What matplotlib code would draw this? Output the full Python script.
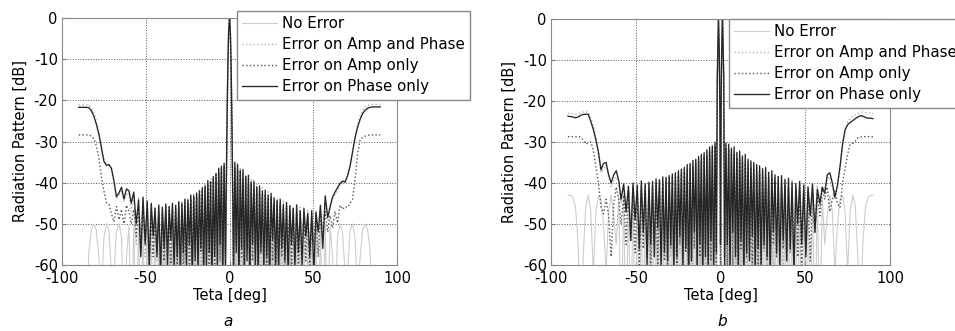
import numpy as np
import matplotlib
matplotlib.use('Agg')
import matplotlib.pyplot as plt

plt.rcParams['font.family'] = ['DejaVu Sans']
plt.rcParams['axes.unicode_minus'] = False

# lobe grid (deg, positive side) - nulls and sidelobe tops
null_deg = [2.41, 4.01, 5.62, 7.24, 8.86, 10.49, 12.12, 13.77, 15.42, 17.10,
            18.78, 20.49, 22.21, 23.95, 25.72, 27.52, 29.34, 31.20, 33.09, 35.03,
            37.01, 39.05, 41.15, 43.32, 45.56, 47.91, 50.35, 52.95, 55.69, 58.66]
peak_deg = [3.21, 4.82, 6.43, 8.05, 9.67, 11.30, 12.94, 14.60, 16.26, 17.94,
            19.63, 21.35, 23.08, 24.83, 26.62, 28.42, 30.27, 32.14, 34.06, 36.02,
            38.03, 40.09, 42.22, 44.43, 46.71, 49.11, 51.63, 54.29, 57.14]
outer_deg = [60.0, 61.5, 63.0, 64.5, 66.0, 67.5, 69.0, 70.5, 72.0, 73.5, 75.0,
             76.5, 78.0, 79.5, 81.0, 82.5, 84.0, 85.5, 87.0, 88.5, 90.0]

main_a_deg = [-1.6, -1.0, -0.5, 0.0, 0.5, 1.0, 1.6]
main_b_deg = [-1.9, -1.2, -0.7, -0.3, 0.0, 0.3, 0.7, 1.2, 1.9]

labels = ['No Error', 'Error on Amp and Phase', 'Error on Amp only', 'Error on Phase only']

# ---------------- panel a ----------------
a_none_main = [-30, -12, -3.2, 0, -3.2, -12, -30]
a_none_null = [-80, -80, -80, -80, -80, -80, -80, -80, -80, -80,
               -80, -80, -80, -80, -80, -80, -80, -80, -80, -80,
               -80, -80, -80, -80, -80, -80, -80, -80, -80, -80]
a_none_peak = [-50, -50, -50, -50, -50, -50, -50, -50, -50, -50,
               -50, -50, -50, -50, -50, -50, -50, -50, -50, -50,
               -50, -50, -50, -50, -50, -50, -50, -50, -50]
a_none_outer = [-50.5, -58, -75, -53, -50, -52, -62, -62, -51.5, -50, -53.5,
                -68, -58, -51.5, -50, -51.5, -57, -75, -62, -60.5, -62]

a_ampph_main = [-28.5, -11.2, -2.9, -0.2, -3.4, -12.5, -31]
a_ampph_r_null = [-58, -63, -55, -60, -66, -57, -61, -54, -63, -58, -60, -56, -64, -59, -61,
                  -55, -58, -63, -57, -60, -62, -54, -59, -61, -56, -60, -53, -57, -51, -49]
a_ampph_r_peak = [-35.8, -36, -36.5, -37.5, -38, -39, -39.2, -40.5, -40.3, -41.5, -41.2, -42.6,
                  -42.2, -43.5, -43.2, -44.5, -44.8, -44.3, -45.5, -45.2, -46, -46.6, -46, -47.2,
                  -46.5, -47.8, -46.8, -46, -44.5]
a_ampph_r_outer = [-45.5, -44, -43, -41.8, -40.6, -40, -39.6, -37.8, -35.4, -32, -28.5,
                   -25.8, -23.8, -22.5, -21.6, -21.2, -21, -21, -21, -21, -21]
a_ampph_l_null = [-61, -56, -62, -58, -55, -63, -59, -57, -61, -60, -54, -62, -58, -56, -63,
                  -59, -55, -61, -57, -60, -58, -62, -55, -59, -57, -54, -58, -52, -55, -47]
a_ampph_l_peak = [-35.6, -36.4, -37, -37.4, -38.9, -39, -40.2, -40.4, -41.6, -41.6, -42.8, -42.6,
                  -43.5, -43.8, -44.4, -44.6, -45, -45.2, -45.3, -45.5, -45.8, -45.6, -46, -45.8,
                  -45.5, -45, -44, -43.5, -43]
a_ampph_l_outer = [-43, -42.5, -44.5, -42, -43, -44, -40, -37, -35.8, -35.4, -34.2,
                   -30.8, -27.5, -25, -23, -21.8, -21.2, -21.1, -21.1, -21.1, -21.1]

a_amp_main = [-30.5, -12.3, -3.3, -0.05, -3.1, -11.8, -29.5]
a_amp_r_null = [-60, -55, -62, -58, -64, -56, -60, -59, -57, -63, -55, -60, -61, -57, -59,
                -64, -56, -58, -62, -55, -60, -58, -63, -56, -59, -61, -55, -58, -54, -52]
a_amp_r_peak = [-36.5, -37, -37.5, -38.6, -38.4, -40, -40.3, -41.5, -41.2, -42.4, -43, -42.8,
                -44, -43.6, -45, -44.8, -45.5, -46.2, -45.8, -46.8, -46.4, -47.5, -47, -48,
                -47.6, -48.5, -48, -47.5, -47]
a_amp_r_outer = [-48, -51, -47, -49.8, -45.5, -46.5, -45.8, -46, -45, -44, -39,
                 -33, -29.5, -29, -28.7, -28.5, -28.4, -28.4, -28.4, -28.4, -28.4]
a_amp_l_null = [-57, -62, -59, -55, -61, -58, -64, -56, -60, -57, -62, -55, -59, -61, -58,
                -63, -56, -60, -58, -62, -55, -59, -61, -57, -58, -60, -54, -57, -53, -50]
a_amp_l_peak = [-36, -36.8, -37.6, -38.2, -39.2, -39.5, -40.8, -41, -42.2, -42.8, -43.4, -43.6,
                -44.4, -44.8, -45.4, -45.5, -46, -46.2, -46.6, -46.8, -47, -47.4, -47.2, -47.8,
                -47.2, -46.5, -46.8, -45.8, -46.5]
a_amp_l_outer = [-47, -45.5, -50, -46.5, -49, -45.8, -49.5, -47.5, -45.3, -44.8, -42,
                 -38.5, -34, -31, -29.3, -28.7, -28.4, -28.4, -28.4, -28.4, -28.4]

a_ph_main = [-29, -11.5, -3, -0.1, -3.3, -12.2, -30.5]
a_ph_r_null = [-62, -57, -64, -56, -61, -59, -66, -55, -60, -63, -57, -61, -58, -65, -54,
               -60, -62, -56, -59, -63, -55, -61, -57, -60, -53, -58, -62, -52, -56, -48.5]
a_ph_r_peak = [-35, -35.5, -37, -36.8, -38.5, -38.2, -39.8, -39.6, -41, -40.8, -42, -41.8,
               -43, -42.6, -43.8, -44.2, -44, -45.3, -44.8, -45.6, -46.2, -45.4, -46.8, -46.2,
               -47.5, -46.8, -47.2, -45.5, -43.2]
a_ph_r_outer = [-46, -43.5, -42.3, -41.2, -40.2, -39.6, -39.9, -38.3, -36, -32.5, -29,
                -26.5, -24.6, -23.2, -22.4, -21.9, -21.7, -21.6, -21.6, -21.6, -21.6]
a_ph_l_null = [-60, -63, -55, -61, -58, -65, -57, -60, -62, -56, -61, -59, -64, -55, -60,
               -57, -63, -58, -61, -54, -60, -56, -62, -58, -53, -60, -55, -58, -50, -45]
a_ph_l_peak = [-35.3, -36, -36.5, -37.8, -38.5, -39.8, -39.5, -40.8, -41.2, -42, -42.5, -43.2,
               -43, -44.2, -44, -45, -44.6, -45.5, -45, -45.8, -45.2, -46, -45.4, -46.2,
               -45, -44.5, -43.5, -44.2, -42.3]
a_ph_l_outer = [-42, -41.5, -44, -41.1, -42.5, -43.4, -39.5, -36.5, -35.6, -35.8, -34.8,
                -31.5, -28.2, -25.8, -23.8, -22.5, -21.8, -21.7, -21.7, -21.7, -21.7]

# ---------------- panel b ----------------
b_none_main = [-14, 0, -8, -24, -80, -24, -8, 0, -14]
b_none_null = [-80, -80, -80, -80, -80, -80, -80, -80, -80, -80,
               -80, -80, -80, -80, -80, -80, -80, -80, -80, -80,
               -80, -80, -80, -80, -80, -80, -80, -80, -80, -80]
b_none_peak = [-43, -43, -43, -43, -43, -43, -43, -43, -43, -43,
               -43, -43, -43, -43, -43, -43, -43, -43, -43, -43,
               -43, -43, -43, -43, -43, -43, -43, -43, -43]
b_none_outer = [-43.5, -55, -48, -43, -47, -62, -50, -44, -43, -47, -62,
                -47, -43, -45.5, -58, -75, -55, -46, -43.5, -43, -43]

b_ampph_main = [-14.2, -0.5, -8.5, -25, -48, -23, -7.6, -0.4, -14.4]
b_ampph_r_null = [-56, -61, -58, -54, -63, -57, -60, -55, -62, -58, -56, -61, -53, -59, -57,
                  -62, -55, -60, -58, -54, -61, -57, -53, -59, -55, -52, -57, -50, -49, -46]
b_ampph_r_peak = [-30.8, -31, -31.8, -32, -32.8, -33.2, -33.6, -34, -34.5, -35.2, -35.4, -36,
                  -36.4, -36.8, -37, -37.5, -37.8, -38.4, -38.2, -38.8, -39, -39.5, -39.4, -40,
                  -40.4, -40, -40.8, -41.2, -40.6]
b_ampph_r_outer = [-42, -41, -39, -38.5, -41.5, -44, -41.5, -37, -31.5, -27.5, -25,
                   -24.2, -23.8, -23.4, -23, -22.8, -22.7, -22.8, -22.9, -23, -23]
b_ampph_l_null = [-59, -55, -62, -57, -60, -54, -63, -58, -56, -61, -59, -55, -62, -57, -60,
                  -53, -58, -61, -55, -59, -57, -52, -58, -55, -53, -57, -50, -52, -48, -45]
b_ampph_l_peak = [-30.6, -30.8, -32, -31.8, -33, -33.4, -34, -34.4, -35, -35.6, -36, -36.4,
                  -37, -37.4, -37.8, -38.2, -38.6, -38.8, -39.2, -39.4, -39.8, -40, -40.2, -40.5,
                  -40.6, -40.3, -40.8, -40.5, -41]
b_ampph_l_outer = [-40, -38.5, -39.5, -41, -38.5, -35.5, -36.5, -37.5, -33, -29, -26,
                   -24, -22.8, -22.6, -22.7, -22.9, -23.1, -23.2, -23.1, -23, -23]

b_amp_main = [-13.8, -0.1, -8.2, -24.5, -62, -24.8, -8.1, -0.1, -14]
b_amp_r_null = [-58, -62, -55, -60, -57, -64, -56, -61, -58, -55, -62, -57, -60, -63, -56,
                -59, -61, -55, -58, -62, -56, -59, -57, -60, -58, -61, -56, -59, -52, -48]
b_amp_r_peak = [-31.5, -31.8, -32.6, -33, -33.8, -34, -34.8, -35.2, -35.6, -36.2, -36.6, -37.2,
                -37.6, -38, -38.4, -38.8, -39.2, -39.6, -40, -40.2, -40.6, -41, -41.2, -41.6,
                -41.8, -42, -42.2, -42.5, -42.8]
b_amp_r_outer = [-41, -44, -41, -47, -44, -42, -45, -46, -40, -36.5, -33,
                 -30.5, -30.3, -29.8, -29, -28.8, -28.7, -28.7, -28.7, -28.7, -28.7]
b_amp_l_null = [-61, -57, -59, -63, -55, -60, -58, -62, -56, -59, -64, -57, -60, -55, -62,
                -58, -56, -61, -59, -57, -60, -55, -62, -58, -56, -60, -57, -54, -55, -50]
b_amp_l_peak = [-31, -32, -32.4, -33.2, -33.6, -34.4, -34.6, -35.4, -35.8, -36.4, -37, -37.2,
                -37.8, -38.2, -38.6, -39, -39.4, -39.8, -40, -40.5, -40.8, -41, -41.5, -41.6,
                -42, -41.5, -42.4, -42, -43]
b_amp_l_outer = [-44, -41, -45, -58, -48, -44, -47.5, -46, -40, -36, -32,
                 -30, -30.2, -30.5, -29.5, -28.8, -28.7, -28.7, -28.7, -28.7, -28.7]

b_ph_main = [-14.5, -0.3, -8.5, -25, -55, -24, -7.8, -0.2, -13.8]
b_ph_r_null = [-60, -55, -63, -52, -58, -61, -54, -64, -57, -59, -53, -62, -56, -60, -55,
               -58, -63, -52, -57, -60, -54, -59, -56, -62, -50, -55, -58, -48, -52, -45]
b_ph_r_peak = [-30.2, -30.5, -31.5, -31.2, -32.5, -32.2, -33.4, -33, -34.2, -34.6, -35, -35.5,
               -35.8, -36.5, -36.2, -37.4, -37, -38, -38.4, -38.2, -39.2, -38.8, -39.8, -40.2,
               -39.6, -40.5, -41, -40.2, -41.5]
b_ph_r_outer = [-41, -42.5, -38, -37.5, -40, -43.5, -40.5, -36, -30.5, -27, -25.8,
                -25.2, -24.8, -24.3, -23.9, -23.6, -23.7, -24, -24.2, -24.2, -24.3]
b_ph_l_null = [-57, -62, -54, -60, -58, -63, -55, -61, -52, -59, -64, -56, -60, -53, -58,
               -62, -55, -59, -57, -61, -51, -58, -55, -60, -52, -56, -49, -54, -47, -44]
b_ph_l_peak = [-30, -31, -31.2, -32, -32.6, -33, -33.5, -34.2, -34.5, -35.2, -35.5, -36.2,
               -36.6, -37, -37.5, -37.8, -38.2, -38.6, -38.5, -39.2, -39, -39.6, -39.8, -40.2,
               -39.5, -40.6, -40, -40.8, -40.2]
b_ph_l_outer = [-39.5, -37, -38, -40, -38, -35, -35.2, -36.8, -32.5, -29.5, -27,
                -25, -23.3, -23.2, -23.3, -23.5, -23.9, -24.1, -23.9, -23.8, -23.7]


def side(null, peak, outer):
    # nulls and lobe tops alternate going outwards, then the 60-90 deg part
    if len(null) != 30 or len(peak) != 29 or len(outer) != 21:
        raise ValueError('bad lengths %d %d %d' % (len(null), len(peak), len(outer)))
    v = np.empty(len(null) + len(peak))
    v[0::2] = null
    v[1::2] = peak
    return np.concatenate([v, outer])


side_deg = side(null_deg, peak_deg, outer_deg)


def pattern(main_deg, main_db, left, right):
    deg = np.concatenate([-side_deg[::-1], main_deg, side_deg])
    db = np.concatenate([left[::-1], main_db, right])
    return deg, db


none_a = side(a_none_null, a_none_peak, a_none_outer)
none_b = side(b_none_null, b_none_peak, b_none_outer)

curves_a = [
    pattern(main_a_deg, a_none_main, none_a, none_a),
    pattern(main_a_deg, a_ampph_main, side(a_ampph_l_null, a_ampph_l_peak, a_ampph_l_outer),
            side(a_ampph_r_null, a_ampph_r_peak, a_ampph_r_outer)),
    pattern(main_a_deg, a_amp_main, side(a_amp_l_null, a_amp_l_peak, a_amp_l_outer),
            side(a_amp_r_null, a_amp_r_peak, a_amp_r_outer)),
    pattern(main_a_deg, a_ph_main, side(a_ph_l_null, a_ph_l_peak, a_ph_l_outer),
            side(a_ph_r_null, a_ph_r_peak, a_ph_r_outer)),
]
curves_b = [
    pattern(main_b_deg, b_none_main, none_b, none_b),
    pattern(main_b_deg, b_ampph_main, side(b_ampph_l_null, b_ampph_l_peak, b_ampph_l_outer),
            side(b_ampph_r_null, b_ampph_r_peak, b_ampph_r_outer)),
    pattern(main_b_deg, b_amp_main, side(b_amp_l_null, b_amp_l_peak, b_amp_l_outer),
            side(b_amp_r_null, b_amp_r_peak, b_amp_r_outer)),
    pattern(main_b_deg, b_ph_main, side(b_ph_l_null, b_ph_l_peak, b_ph_l_outer),
            side(b_ph_r_null, b_ph_r_peak, b_ph_r_outer)),
]

colors = ['#cdcdcd', '#b4b4b4', '#555555', '#262626']
styles = ['-', ':', ':', '-']
widths = [0.8, 1.0, 1.0, 0.95]

W, H = 955, 331
fig = plt.figure(figsize=(W / 100, H / 100), dpi=100)
ax_a = fig.add_axes([62 / W, 1 - 265 / H, 335 / W, 247 / H])
ax_b = fig.add_axes([551 / W, 1 - 265 / H, 339 / W, 246 / H])

for ax, curves, leg_xy, tag, tag_xy in [
        (ax_a, curves_a, (237, 11), 'a', (228, 322)),
        (ax_b, curves_b, (729, 19), 'b', (722, 321))]:
    for (deg, db), lab, c, ls, lw in zip(curves, labels, colors, styles, widths):
        ax.plot(deg, db, color=c, linestyle=ls, linewidth=lw, label=lab)
    ax.set_xlim(-100, 100)
    ax.set_ylim(-60, 0)
    ax.set_xticks([-100, -50, 0, 50, 100])
    ax.set_yticks([0, -10, -20, -30, -40, -50, -60])
    ax.grid(True, linestyle=':', color='#555555', linewidth=0.7)
    ax.tick_params(direction='in', length=3, labelsize=10.5, pad=3, color='#777777')
    ax.tick_params(axis='x', pad=4.5)
    for s in ax.spines.values():
        s.set_color('#888888')
        s.set_linewidth(0.8)
    ax.set_xlabel('Teta [deg]', fontsize=10.5, labelpad=1)
    ax.set_ylabel('Radiation Pattern [dB]', fontsize=10.5, labelpad=4)
    leg = ax.legend(loc='upper left', bbox_to_anchor=(leg_xy[0] / W, 1 - leg_xy[1] / H),
                    bbox_transform=fig.transFigure, borderaxespad=0, fontsize=10.8,
                    fancybox=False, framealpha=1, edgecolor='#888888',
                    handlelength=2.3, handletextpad=0.35, labelspacing=0.4, borderpad=0.35)
    leg.get_frame().set_linewidth(1.0)
    fig.text(tag_xy[0] / W, 1 - tag_xy[1] / H, tag, fontsize=11, style='italic',
             ha='center', va='center')

fig.savefig('out.png', dpi=100)
